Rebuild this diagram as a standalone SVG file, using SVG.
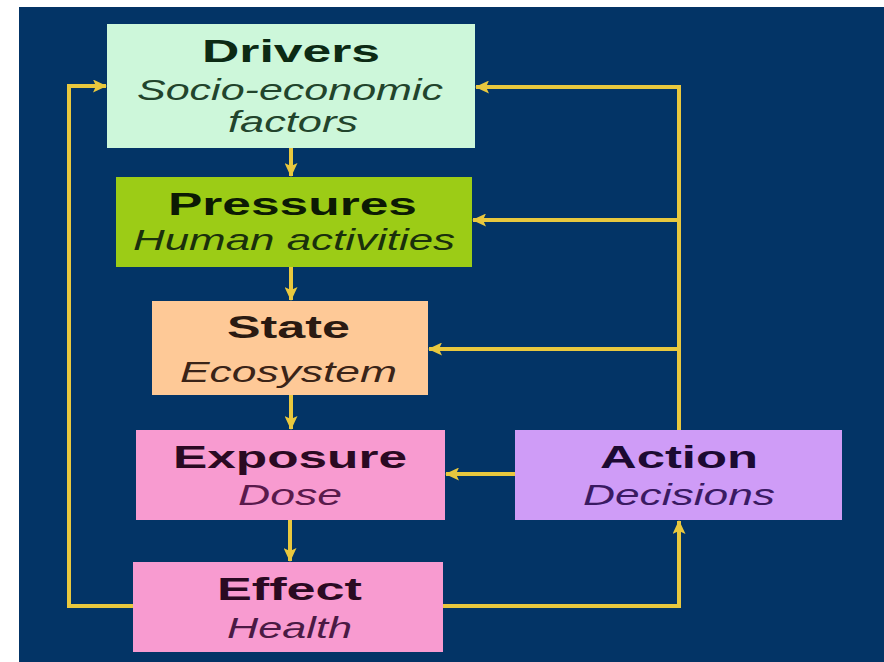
<svg xmlns="http://www.w3.org/2000/svg" width="884" height="662" viewBox="0 0 884 662">
<style>
.bg{fill:#033466}
.box{stroke:none}
.t{font-family:"Liberation Sans",Arial,sans-serif;text-anchor:middle}
.h{font-weight:bold;font-size:31px}
.s{font-style:italic;font-size:30px}
.c{fill:none;stroke:#e9c83e;stroke-width:4}
</style>
<defs>
<marker id="ah" markerUnits="userSpaceOnUse" markerWidth="14" markerHeight="13" viewBox="0 0 14 13" refX="13" refY="6.5" orient="auto">
<path d="M0,0 L14,6.5 L0,13 L3,6.5 Z" fill="#e9c83e"/>
</marker>
</defs>
<rect x="0" y="0" width="884" height="662" fill="#ffffff"/>
<rect class="bg" x="19" y="7" width="865" height="655"/>
<g id="connectors">
<path class="c" d="M291,148 V176" marker-end="url(#ah)"/>
<path class="c" d="M291,267 V300" marker-end="url(#ah)"/>
<path class="c" d="M291,395 V429" marker-end="url(#ah)"/>
<path class="c" d="M290,520 V561" marker-end="url(#ah)"/>
<path class="c" d="M515,474 H446" marker-end="url(#ah)"/>
<path class="c" d="M443,606 H679 V521" marker-end="url(#ah)"/>
<path class="c" d="M679,430 V87 H476" marker-end="url(#ah)"/>
<path class="c" d="M679,220 H473" marker-end="url(#ah)"/>
<path class="c" d="M679,349 H429" marker-end="url(#ah)"/>
<path class="c" d="M133,606 H69 V86 H106" marker-end="url(#ah)"/>
</g>
<g id="drivers">
<rect class="box" x="107" y="24" width="368" height="124" fill="#cdf7da"/>
<text class="t h" x="291" y="62" fill="#0c2a14" textLength="178" lengthAdjust="spacingAndGlyphs">Drivers</text>
<text class="t s" x="290" y="100" fill="#22442c" textLength="306" lengthAdjust="spacingAndGlyphs">Socio-economic</text>
<text class="t s" x="293" y="132" fill="#22442c" textLength="130" lengthAdjust="spacingAndGlyphs">factors</text>
</g>
<g id="pressures">
<rect class="box" x="116" y="177" width="356" height="90" fill="#9ccc16"/>
<text class="t h" x="292.5" y="215" fill="#0c1a04" textLength="249" lengthAdjust="spacingAndGlyphs">Pressures</text>
<text class="t s" x="294" y="250" fill="#1a300c" textLength="322" lengthAdjust="spacingAndGlyphs">Human activities</text>
</g>
<g id="state">
<rect class="box" x="152" y="301" width="276" height="94" fill="#fec997"/>
<text class="t h" x="288.5" y="338" fill="#2a1a12" textLength="123" lengthAdjust="spacingAndGlyphs">State</text>
<text class="t s" x="288.5" y="382" fill="#3a2418" textLength="217" lengthAdjust="spacingAndGlyphs">Ecosystem</text>
</g>
<g id="exposure">
<rect class="box" x="136" y="430" width="309" height="90" fill="#f89bd0"/>
<text class="t h" x="290" y="468" fill="#2a0a22" textLength="234" lengthAdjust="spacingAndGlyphs">Exposure</text>
<text class="t s" x="290" y="505" fill="#5a1a4c" textLength="104" lengthAdjust="spacingAndGlyphs">Dose</text>
</g>
<g id="effect">
<rect class="box" x="133" y="562" width="310" height="90" fill="#f89bd0"/>
<text class="t h" x="289.5" y="600" fill="#2a0a22" textLength="145" lengthAdjust="spacingAndGlyphs">Effect</text>
<text class="t s" x="289.5" y="638" fill="#4a1a44" textLength="125" lengthAdjust="spacingAndGlyphs">Health</text>
</g>
<g id="action">
<rect class="box" x="515" y="430" width="327" height="90" fill="#cf9cf7"/>
<text class="t h" x="679" y="468" fill="#1c0a32" textLength="158" lengthAdjust="spacingAndGlyphs">Action</text>
<text class="t s" x="679" y="505" fill="#3a1a62" textLength="192" lengthAdjust="spacingAndGlyphs">Decisions</text>
</g>
</svg>
